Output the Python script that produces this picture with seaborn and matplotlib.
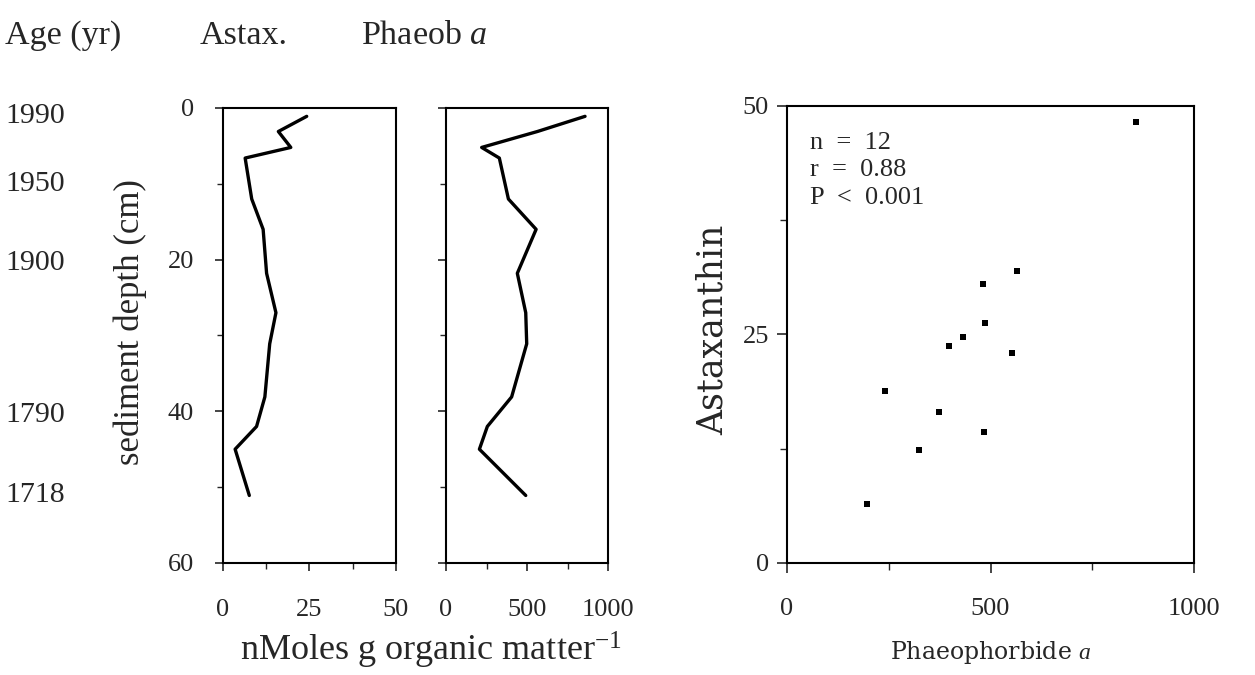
import numpy as np
import pandas as pd
import seaborn as sns
import matplotlib
matplotlib.use("Agg")
import matplotlib.pyplot as plt
from matplotlib.ticker import MultipleLocator
from matplotlib.transforms import blended_transform_factory

# ---- core profile data (sediment depth, cm) ----
depth_cm = [1.1, 3.1, 5.2, 6.6, 12.0, 16.0, 21.8, 27.0, 31.1, 38.1, 42.0, 45.0, 51.1]
astax_conc = [24.2, 16.0, 19.6, 6.4, 8.3, 11.6, 12.6, 15.3, 13.5, 12.1, 9.7, 3.5, 7.6]
phaeob_conc = [858, 564, 220, 329, 385, 556, 440, 492, 498, 405, 255, 206, 492]

# ---- dated horizons ----
age_years = ["1990", "1950", "1900", "1790", "1718"]
age_depth_cm = [1.0, 10.0, 20.5, 40.5, 51.0]

# ---- regression samples ----
scatter_phaeob = [857, 564, 482, 487, 432, 399, 554, 241, 374, 484, 325, 196]
scatter_astax = [48.2, 31.9, 30.5, 26.2, 24.7, 23.7, 23.0, 18.8, 16.5, 14.3, 12.4, 6.45]
stats_lines = ["n  =  12", "r  =  0.88", "P  <  0.001"]

sns.set_style("ticks")
plt.rcParams["font.family"] = ["Liberation Serif", "DejaVu Serif"]
plt.rcParams["mathtext.fontset"] = "custom"
plt.rcParams["mathtext.rm"] = "Liberation Serif"
plt.rcParams["mathtext.it"] = "Liberation Serif:italic"
plt.rcParams["axes.linewidth"] = 1.5
plt.rcParams["axes.edgecolor"] = "black"

profile = pd.DataFrame({"depth": depth_cm, "astax": astax_conc, "phaeob": phaeob_conc})
pairs = pd.DataFrame({"phaeob": scatter_phaeob, "astax": scatter_astax})

fig = plt.figure(figsize=(12.55, 6.75), dpi=100)
bottom, height = 0.166, 0.674
ax_a = fig.add_axes([0.1777, bottom, 0.1378, height])
ax_p = fig.add_axes([0.3554, bottom, 0.1291, height])
ax_s = fig.add_axes([0.6271, bottom, 0.3243, 0.677])

TICK_FS = 19

# Astaxanthin depth profile
sns.lineplot(data=profile, x="astax", y="depth", sort=False, estimator=None,
             color="black", lw=2.4, ax=ax_a)
ax_a.set_xlim(0, 50)
ax_a.set_ylim(60, 0)
ax_a.xaxis.set_major_locator(MultipleLocator(25))
ax_a.xaxis.set_minor_locator(MultipleLocator(12.5))
ax_a.yaxis.set_major_locator(MultipleLocator(20))
ax_a.yaxis.set_minor_locator(MultipleLocator(10))
ax_a.set_xlabel("")
ax_a.set_ylabel("sediment depth (cm)", fontsize=25)
ax_a.yaxis.set_label_coords(-0.44, 0.53)

# Phaeophorbide a depth profile
sns.lineplot(data=profile, x="phaeob", y="depth", sort=False, estimator=None,
             color="black", lw=2.4, ax=ax_p)
ax_p.set_xlim(0, 1000)
ax_p.set_ylim(60, 0)
ax_p.xaxis.set_major_locator(MultipleLocator(500))
ax_p.xaxis.set_minor_locator(MultipleLocator(250))
ax_p.yaxis.set_major_locator(MultipleLocator(20))
ax_p.yaxis.set_minor_locator(MultipleLocator(10))
ax_p.set_xlabel("")
ax_p.set_ylabel("")
ax_p.tick_params(axis="y", labelleft=False)

for ax in (ax_a, ax_p):
    ax.tick_params(axis="both", which="major", direction="out", length=6, width=1.2,
                   labelsize=TICK_FS, pad=20)
    ax.tick_params(axis="both", which="minor", direction="out", length=4, width=1.0)
    ax.tick_params(axis="y", which="major", pad=15)
    for sp in ax.spines.values():
        sp.set_visible(True)
        sp.set_linewidth(1.5)

# Astaxanthin vs phaeophorbide a
sns.scatterplot(data=pairs, x="phaeob", y="astax", marker="s", s=14, color="black",
                edgecolor="black", linewidth=0, ax=ax_s)
ax_s.set_xlim(0, 1000)
ax_s.set_ylim(0, 50)
ax_s.xaxis.set_major_locator(MultipleLocator(500))
ax_s.xaxis.set_minor_locator(MultipleLocator(250))
ax_s.yaxis.set_major_locator(MultipleLocator(25))
ax_s.yaxis.set_minor_locator(MultipleLocator(12.5))
ax_s.tick_params(axis="both", which="major", direction="out", length=7, width=1.2,
                 labelsize=TICK_FS)
ax_s.tick_params(axis="x", which="major", pad=18)
ax_s.tick_params(axis="y", which="major", pad=6)
ax_s.tick_params(axis="both", which="minor", direction="out", length=5, width=1.0)
for sp in ax_s.spines.values():
    sp.set_visible(True)
    sp.set_linewidth(1.5)
ax_s.set_xlabel("Phaeophorbide $\\mathit{a}$", fontsize=17, family="DejaVu Serif",
                labelpad=14)
ax_s.set_ylabel("Astaxanthin", fontsize=25, family="DejaVu Serif")
ax_s.yaxis.set_label_coords(-0.14, 0.51)
ax_s.text(0.057, 0.943, "\n".join(stats_lines), transform=ax_s.transAxes,
          ha="left", va="top", fontsize=19, linespacing=1.32)

# Column headings
fig.text(0.004, 0.935, "Age (yr)", fontsize=24.5, ha="left", va="baseline")
fig.text(0.194, 0.935, "Astax.", fontsize=24.5, ha="center", va="baseline")
fig.text(0.338, 0.935, "Phaeob $\\mathit{a}$", fontsize=24.5, ha="center", va="baseline")

# Age scale alongside the depth axis
age_tf = blended_transform_factory(fig.transFigure, ax_a.transData)
for yr, d in zip(age_years, age_depth_cm):
    ax_a.text(0.004, d, yr, transform=age_tf, ha="left", va="center",
              fontsize=21.5, clip_on=False)

# Shared concentration label
fig.text(0.343, 0.037, "nMoles g organic matter$^{-1}$", fontsize=26,
         ha="center", va="center")

fig.savefig("out.png", dpi=100, facecolor="white")
